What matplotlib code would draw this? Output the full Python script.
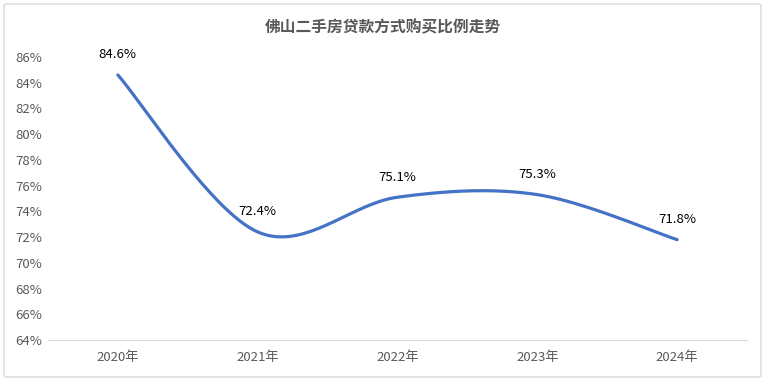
import numpy as np
import matplotlib.pyplot as plt
import matplotlib.ticker as tick
from matplotlib.patches import FancyBboxPatch

plt.rcParams['font.family'] = ['Noto Sans CJK SC', 'DejaVu Sans']

years = ['2020年', '2021年', '2022年', '2023年', '2024年']
ratio = [84.6, 72.4, 75.1, 75.3, 71.8]


def smooth(x, y, n=40):
    # Excel-style smoothed line: Catmull-Rom as cubic Bezier segments
    x = np.asarray(x, float)
    y = np.asarray(y, float)
    px = np.concatenate([[x[0]], x, [x[-1]]])
    py = np.concatenate([[y[0]], y, [y[-1]]])
    xs, ys = [], []
    t = np.linspace(0, 1, n)
    for i in range(1, len(px) - 2):
        p0 = np.array([px[i], py[i]])
        p3 = np.array([px[i + 1], py[i + 1]])
        c1 = p0 + (np.array([px[i + 1], py[i + 1]]) - np.array([px[i - 1], py[i - 1]])) / 6
        c2 = p3 - (np.array([px[i + 2], py[i + 2]]) - np.array([px[i], py[i]])) / 6
        b = ((1 - t) ** 3)[:, None] * p0 + (3 * (1 - t) ** 2 * t)[:, None] * c1 \
            + (3 * (1 - t) * t ** 2)[:, None] * c2 + (t ** 3)[:, None] * p3
        xs.extend(b[:, 0])
        ys.extend(b[:, 1])
    return xs, ys


fig = plt.figure(figsize=(7.65, 3.84), dpi=100)
fig.patches.append(FancyBboxPatch((4 / 765, 7 / 384), 757 / 765, 373 / 384,
                                  boxstyle='round,pad=0,rounding_size=0.004',
                                  transform=fig.transFigure, fc='none',
                                  ec='#d9d9d9', lw=1))
ax = fig.add_axes([0.0627, 0.1146, 0.9138, 0.737])
ax.patch.set_alpha(0)

xi = np.arange(len(years))
sx, sy = smooth(xi, ratio)
ax.plot(sx, sy, color='#4472C4', lw=2.3, solid_capstyle='round')
for i, v in enumerate(ratio):
    ax.annotate(f'{v}%', (xi[i], v), xytext=(0, 14.5), textcoords='offset points',
                ha='center', va='center', fontsize=9.5, color='black')

ax.set_xlim(-0.5, len(years) - 0.5)
ax.set_ylim(64, 86)
ax.set_xticks(xi)
ax.set_xticklabels(years)
ax.yaxis.set_major_locator(tick.MultipleLocator(2))
ax.yaxis.set_major_formatter(tick.FuncFormatter(lambda v, p: f'{v:.0f}%'))
for s in ['top', 'right', 'left']:
    ax.spines[s].set_visible(False)
ax.spines['bottom'].set_color('#d9d9d9')
ax.tick_params(length=0, labelsize=9.5, colors='#595959')
ax.tick_params(axis='x', pad=8)
ax.tick_params(axis='y', pad=4)

fig.text(0.5, 1 - 27 / 384, '佛山二手房贷款方式购买比例走势', ha='center', va='center',
         fontsize=11.3, fontweight='bold', color='#595959')

fig.savefig('out.png', dpi=100)
